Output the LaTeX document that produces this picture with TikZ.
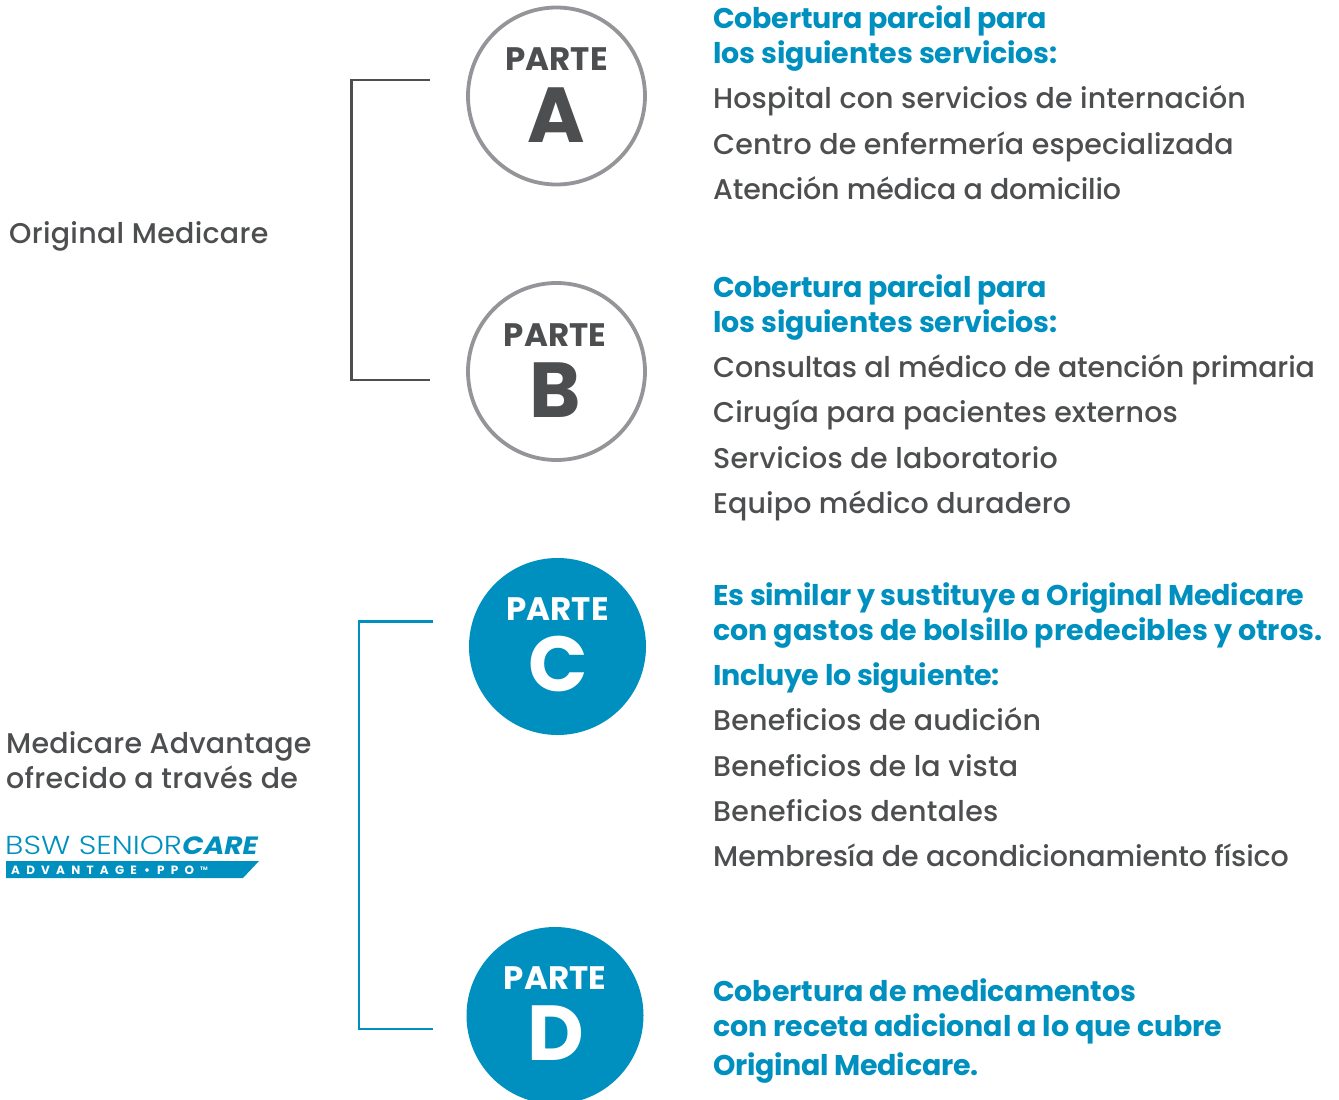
\documentclass[tikz,border=0pt]{standalone}
\usepackage{fontspec}
\setmainfont{Poppins}
\newfontfamily\bodyfont{Poppins Medium}
\newfontfamily\logofont{Poppins Light}[FakeStretch=1.18]
\newfontfamily\carefont{Poppins}[FakeStretch=1.12]
\newcommand{\trk}[1]{\addfontfeature{LetterSpace=#1}}
\definecolor{brandblue}{HTML}{0090BF}
\definecolor{bodygray}{HTML}{4D4E50}
\definecolor{ringgray}{HTML}{939598}
\tikzset{
  x=1pt,y=-1pt,
  ring/.style={circle,draw=ringgray,line width=3.8pt,fill=white,minimum size=177pt,inner sep=0pt},
  solid disc/.style={circle,fill=brandblue,minimum size=177pt,inner sep=0pt},
  parteword/.style={font=\fontsize{32.5}{32.5}\selectfont\bfseries,anchor=base,inner sep=0pt},
  letterword/.style={font=\fontsize{78}{78}\selectfont\bfseries,anchor=base,inner sep=0pt},
  head/.style={font=\fontsize{28.5}{28.5}\selectfont\bfseries,text=brandblue,anchor=base west,inner sep=0pt,yshift=0.2pt},
  body/.style={font=\fontsize{28.5}{28.5}\selectfont\bodyfont,text=bodygray,anchor=base west,inner sep=0pt,yshift=0.5pt},
  logoband/.style={font=\fontsize{12}{12}\selectfont\bfseries,text=white,anchor=base west,inner sep=0pt},
  grayline/.style={draw=bodygray,line width=2.8pt,line cap=butt,line join=miter},
  blueline/.style={draw=brandblue,line width=2.8pt,line cap=butt,line join=miter},
}
\begin{document}
\begin{tikzpicture}
\useasboundingbox (0,0) rectangle (1339,1100);
% brackets
\coordinate (ga) at (430,80); \coordinate (gb) at (351.5,80);
\coordinate (gc) at (351.5,380); \coordinate (gd) at (430,380);
\draw[grayline] (ga) -- (gb) -- (gc) -- (gd);
\coordinate (ba) at (433,621.5); \coordinate (bb) at (359,621.5);
\coordinate (bc) at (359,1029); \coordinate (bd) at (433,1029);
\draw[blueline] (ba) -- (bb) -- (bc) -- (bd);
% discs
\begin{scope}
\clip (0,0) rectangle (1339,1100);
\node[ring] (pa) at (556.5,96) {};
\node[ring] (pb) at (556.5,371.5) {};
\node[solid disc] (pc) at (557.5,646.5) {};
\node[solid disc] (pd) at (555,1015.5) {};
\end{scope}
\node[parteword,text=bodygray] (pat) at (556.5,70) {PARTE};
\node[letterword,text=bodygray] (pal) at (556.5,142) {A};
\node[parteword,text=bodygray] (pbt) at (555,346) {PARTE};
\node[letterword,text=bodygray] (pbl) at (555.5,417) {B};
\node[parteword,text=white] (pct) at (557.5,620) {PARTE};
\node[letterword,text=white] (pcl) at (558.5,691) {C};
\node[parteword,text=white] (pdt) at (555,989) {PARTE};
\node[letterword,text=white] (pdl) at (555.5,1060) {D};
% left labels
\node[body] (s1) at (9,244) {\trk{1.0}Original Medicare};
\node[body] (s2) at (6,754) {\trk{0.7}Medicare Advantage};
\node[body] (s3) at (6,789) {\trk{1.1}ofrecido a través de};
% logo
\node[font=\fontsize{26}{26}\selectfont\logofont,text=brandblue,anchor=base west,inner sep=0pt] (l1) at (5,854) {BSW SENIOR};
\node[font=\fontsize{25}{25}\selectfont\carefont\bfseries\itshape,text=brandblue,anchor=base east,inner sep=0pt] (l2) at (258,854) {CARE};
\fill[brandblue] (6,861) -- (259,861) -- (243,878) -- (6,878) -- cycle;
\node[logoband] (l3) at (11,874) {\trk{52}ADVANTAGE};
\node[logoband] (l4) at (144,874) {•};
\node[logoband] (l5) at (157,874) {\trk{52}PPO};
\node[logoband,font=\fontsize{5}{5}\selectfont\bfseries] (l6) at (200,870) {TM};
% text A
\node[head] (a1) at (713,29) {\trk{-0.8}Cobertura parcial para};
\node[head] (a2) at (713,64) {\trk{-0.44}los siguientes servicios:};
\node[body] (a3) at (713,109) {\trk{0.5}Hospital con servicios de internación};
\node[body] (a4) at (713,155) {\trk{0.5}Centro de enfermería especializada};
\node[body] (a5) at (713,200) {\trk{-0.7}Atención médica a domicilio};
% text B
\node[head] (b1) at (713,298) {\trk{-0.8}Cobertura parcial para};
\node[head] (b2) at (713,333) {\trk{-0.44}los siguientes servicios:};
\node[body] (b3) at (713,378) {\trk{-0.55}Consultas al médico de atención primaria};
\node[body] (b4) at (713,423) {\trk{0.35}Cirugía para pacientes externos};
\node[body] (b5) at (713,469) {\trk{0.85}Servicios de laboratorio};
\node[body] (b6) at (713,514) {\trk{0.35}Equipo médico duradero};
% text C
\node[head] (c1) at (713,606) {\trk{-0.94}Es similar y sustituye a Original Medicare};
\node[head] (c2) at (713,641) {\trk{0.1}con gastos de bolsillo predecibles y otros.};
\node[head] (c3) at (713,686) {\trk{-1.05}Incluye lo siguiente:};
\node[body] (c4) at (713,731) {\trk{0.65}Beneficios de audición};
\node[body] (c5) at (713,777) {\trk{0.65}Beneficios de la vista};
\node[body] (c6) at (713,822) {\trk{1.15}Beneficios dentales};
\node[body] (c7) at (713,867) {\trk{-0.35}Membresía de acondicionamiento físico};
% text D
\node[head] (d1) at (713,1002) {\trk{-0.3}Cobertura de medicamentos};
\node[head] (d2) at (713,1037) {\trk{-0.35}con receta adicional a lo que cubre};
\node[head] (d3) at (713,1076) {\trk{-1}Original Medicare.};
\end{tikzpicture}
\end{document}
